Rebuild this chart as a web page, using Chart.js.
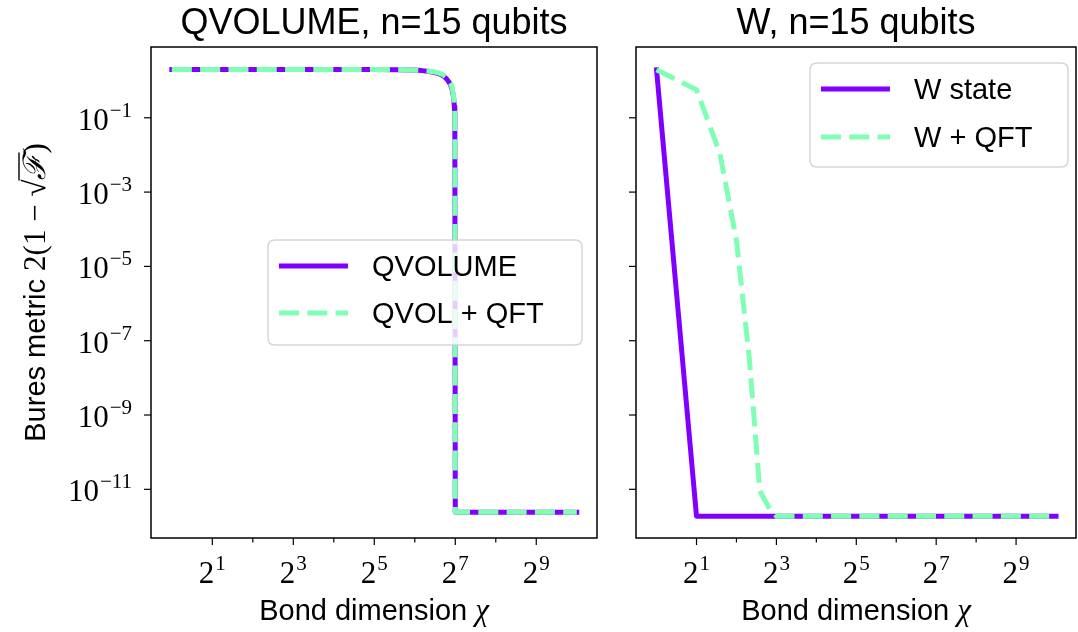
<!DOCTYPE html>
<html>
<head>
<meta charset="utf-8">
<script src="https://cdn.jsdelivr.net/npm/chart.js@4.4.1/dist/chart.umd.min.js"></script>
<style>
  html, body { margin: 0; padding: 0; background: #fff; }
  #wrap { position: relative; width: 1078px; height: 632px; overflow: hidden; }
  canvas { position: absolute; top: 0; }
  #left { left: 0; }
  #right { left: 605px; }
</style>
</head>
<body>
<div id="wrap">
  <canvas id="left" width="605" height="632"></canvas>
  <canvas id="right" width="473" height="632"></canvas>
</div>
<script>
// bond dimensions (chi) and Bures metric values
const qvChi = [1, 2, 4, 8, 16, 32, 48, 64, 72, 80, 88, 96, 104, 110, 114, 118, 121, 124, 126, 127, 128, 256, 512, 1024];
const qvolume = [2.0, 2.0, 2.0, 2.0, 2.0, 1.99, 1.97, 1.92, 1.86, 1.78, 1.68, 1.56, 1.36, 1.12, 0.95, 0.78, 0.6, 0.38, 0.2, 0.1,
  2.4e-12, 2.4e-12, 2.4e-12, 2.4e-12];
const qvolQft = [2.0, 2.0, 2.0, 2.0, 2.0, 1.99, 1.98, 1.94, 1.89, 1.82, 1.73, 1.62, 1.44, 1.2, 1.02, 0.84, 0.66, 0.42, 0.22, 0.11,
  2.4e-12, 2.4e-12, 2.4e-12, 2.4e-12];

const wChi = [1, 2, 4, 8, 16, 32, 64, 128, 256, 512, 1024];
const wState = [1.95, 1.9e-12, 1.9e-12, 1.9e-12, 1.9e-12, 1.9e-12, 1.9e-12, 1.9e-12, 1.9e-12, 1.9e-12, 1.9e-12];
const wQftChi = [1, 2, 3, 4, 5, 6, 7, 8, 16, 32, 64, 128, 256, 512, 1024];
const wQft = [1.95, 0.57, 0.011, 5e-5, 3.4e-8, 9e-12, 3.3e-12, 1.9e-12, 1.9e-12, 1.9e-12, 1.9e-12, 1.9e-12, 1.9e-12, 1.9e-12, 1.9e-12];

// ticks: powers of 10 on y, powers of 2 on x (odd ones labelled)
const yTickExp = [-1, -3, -5, -7, -9, -11];
const xTickExp = [1, 2, 3, 4, 5, 6, 7, 8, 9];
const xLabelExp = [1, 3, 5, 7, 9];

const PURPLE = "#8000ff";
const GREEN = "#80ffb4";
const SANS = "'Liberation Sans', 'DejaVu Sans', sans-serif";
const SERIF = "'Liberation Serif', 'DejaVu Serif', serif";

function pts(xs, ys) {
  return xs.map((x, i) => ({ x: x, y: ys[i] }));
}

function powerLabel(ctx, base, exp, x, y, align, baseSize, expSize, rise) {
  const expText = exp < 0 ? "\u2212" + -exp : String(exp);
  ctx.font = baseSize + "px " + SERIF;
  const bw = ctx.measureText(base).width;
  ctx.font = expSize + "px " + SERIF;
  const ew = ctx.measureText(expText).width;
  const total = bw + ew + 1;
  let x0 = x;
  if (align === "right") x0 = x - total;
  if (align === "center") x0 = x - total / 2;
  ctx.textAlign = "left";
  ctx.textBaseline = "alphabetic";
  ctx.font = baseSize + "px " + SERIF;
  ctx.fillText(base, x0, y);
  ctx.font = expSize + "px " + SERIF;
  ctx.fillText(expText, x0 + bw + 1, y - rise);
}

function roundRect(ctx, x, y, w, h, r) {
  ctx.beginPath();
  ctx.moveTo(x + r, y);
  ctx.lineTo(x + w - r, y);
  ctx.quadraticCurveTo(x + w, y, x + w, y + r);
  ctx.lineTo(x + w, y + h - r);
  ctx.quadraticCurveTo(x + w, y + h, x + w - r, y + h);
  ctx.lineTo(x + r, y + h);
  ctx.quadraticCurveTo(x, y + h, x, y + h - r);
  ctx.lineTo(x, y + r);
  ctx.quadraticCurveTo(x, y, x + r, y);
  ctx.closePath();
}

// legend box inside the axes, drawn over the lines
const legendBox = {
  id: "legendBox",
  afterDatasetsDraw(chart, args, opts) {
    const ctx = chart.ctx;
    const a = chart.chartArea;
    const bx = a.left + opts.x;
    const by = a.top + opts.y;
    ctx.save();
    roundRect(ctx, bx, by, opts.w, opts.h, 7);
    ctx.fillStyle = "rgba(255,255,255,0.8)";
    ctx.fill();
    ctx.strokeStyle = "rgba(204,204,204,0.8)";
    ctx.lineWidth = 1.5;
    ctx.stroke();
    chart.data.datasets.forEach((ds, i) => {
      const ry = by + opts.row0 + i * opts.rowStep;
      ctx.beginPath();
      ctx.strokeStyle = ds.borderColor;
      ctx.lineWidth = ds.borderWidth;
      ctx.lineCap = "butt";
      ctx.setLineDash(ds.borderDash || []);
      ctx.moveTo(bx + 11, ry);
      ctx.lineTo(bx + 80, ry);
      ctx.stroke();
      ctx.setLineDash([]);
      ctx.fillStyle = "#000";
      ctx.font = opts.fontSize + "px " + SANS;
      ctx.textAlign = "left";
      ctx.textBaseline = "alphabetic";
      ctx.fillText(ds.label, bx + 104, ry + 10);
    });
    ctx.restore();
  }
};

// frame, ticks, tick labels, axis titles and panel title
const axesDecor = {
  id: "axesDecor",
  afterDraw(chart, args, opts) {
    const ctx = chart.ctx;
    const a = chart.chartArea;
    const xs = chart.scales.x;
    const ys = chart.scales.y;
    ctx.save();
    ctx.strokeStyle = "#000";
    ctx.fillStyle = "#000";
    ctx.lineWidth = 1.5;
    ctx.strokeRect(a.left, a.top, a.right - a.left, a.bottom - a.top);

    ctx.lineWidth = 1.2;
    xTickExp.forEach((e) => {
      const px = xs.getPixelForValue(Math.pow(2, e));
      const len = xLabelExp.includes(e) ? 7 : 4.5;
      ctx.beginPath();
      ctx.moveTo(px, a.bottom);
      ctx.lineTo(px, a.bottom + len);
      ctx.stroke();
    });
    yTickExp.forEach((e) => {
      const py = ys.getPixelForValue(Math.pow(10, e));
      ctx.beginPath();
      ctx.moveTo(a.left, py);
      ctx.lineTo(a.left - 7, py);
      ctx.stroke();
    });

    xLabelExp.forEach((e) => {
      const px = xs.getPixelForValue(Math.pow(2, e));
      powerLabel(ctx, "2", e, px, a.bottom + 45, "center", 31, 21, 13);
    });
    if (opts.yLabels) {
      yTickExp.forEach((e) => {
        const py = ys.getPixelForValue(Math.pow(10, e));
        powerLabel(ctx, "10", e, a.left - 19, py + 12, "right", 31, 21, 13);
      });
    }

    const cx = (a.left + a.right) / 2;
    ctx.textAlign = "center";
    ctx.textBaseline = "alphabetic";
    ctx.font = "36px " + SANS;
    ctx.fillText(opts.title, cx, a.top - 13);

    // x axis title: "Bond dimension χ"
    ctx.font = "29px " + SANS;
    const t1 = "Bond dimension ";
    const w1 = ctx.measureText(t1).width;
    ctx.font = "italic 31px " + SERIF;
    const w2 = ctx.measureText("\u03c7").width;
    let x0 = cx - (w1 + w2) / 2;
    ctx.textAlign = "left";
    ctx.font = "29px " + SANS;
    ctx.fillText(t1, x0, a.bottom + 82);
    ctx.font = "italic 31px " + SERIF;
    ctx.fillText("\u03c7", x0 + w1, a.bottom + 82);

    if (opts.yTitle) {
      const parts = [
        { t: "Bures metric ", f: "29px " + SANS },
        { t: "2(1 \u2212 ", f: "31px " + SERIF },
        { t: "\u221a", f: "31px " + SERIF },
        { t: "\u2131", f: "italic 31px " + SERIF, bar: true },
        { t: ")", f: "31px " + SERIF }
      ];
      let total = 0;
      parts.forEach((p) => {
        ctx.font = p.f;
        p.w = ctx.measureText(p.t).width;
        total += p.w;
      });
      ctx.translate(45, (a.top + a.bottom) / 2);
      ctx.rotate(-Math.PI / 2);
      let x = -total / 2;
      parts.forEach((p) => {
        ctx.font = p.f;
        ctx.fillText(p.t, x, 0);
        if (p.bar) {
          ctx.lineWidth = 1.4;
          ctx.beginPath();
          ctx.moveTo(x - 1, -26);
          ctx.lineTo(x + p.w + 1, -26);
          ctx.stroke();
        }
        x += p.w;
      });
    }
    ctx.restore();
  }
};

function makePanel(id, padding, datasets, decor, legend) {
  return new Chart(document.getElementById(id), {
    type: "line",
    data: { datasets: datasets },
    options: {
      responsive: false,
      animation: false,
      layout: { padding: padding },
      plugins: {
        legend: { display: false },
        tooltip: { enabled: false },
        axesDecor: decor,
        legendBox: legend
      },
      scales: {
        x: { type: "logarithmic", display: false, min: Math.pow(2, -0.5), max: Math.pow(2, 10.5) },
        y: { type: "logarithmic", display: false, min: Math.pow(10, -12.31), max: Math.pow(10, 0.905) }
      },
      elements: { point: { radius: 0 }, line: { tension: 0 } }
    },
    plugins: [legendBox, axesDecor]
  });
}

makePanel("left", { left: 151, top: 47, right: 8, bottom: 94 }, [
  {
    label: "QVOLUME", data: pts(qvChi, qvolume), borderColor: PURPLE, borderWidth: 5,
    borderCapStyle: "square", borderJoinStyle: "round", order: 1
  },
  {
    label: "QVOL + QFT", data: pts(qvChi, qvolQft), borderColor: GREEN, borderWidth: 5,
    borderDash: [20, 8.3], borderCapStyle: "butt", borderJoinStyle: "round", order: 0
  }
], { title: "QVOLUME, n=15 qubits", yLabels: true, yTitle: true },
   { x: 117, y: 193, w: 314, h: 105, row0: 26, rowStep: 47, fontSize: 29 });

makePanel("right", { left: 31, top: 47, right: 2, bottom: 94 }, [
  {
    label: "W state", data: pts(wChi, wState), borderColor: PURPLE, borderWidth: 5,
    borderCapStyle: "square", borderJoinStyle: "round", order: 1
  },
  {
    label: "W + QFT", data: pts(wQftChi, wQft), borderColor: GREEN, borderWidth: 5,
    borderDash: [20, 8.3], borderCapStyle: "butt", borderJoinStyle: "round", order: 0
  }
], { title: "W, n=15 qubits", yLabels: false, yTitle: false },
   { x: 174, y: 16, w: 258, h: 104, row0: 26, rowStep: 48, fontSize: 29 });
</script>
</body>
</html>
